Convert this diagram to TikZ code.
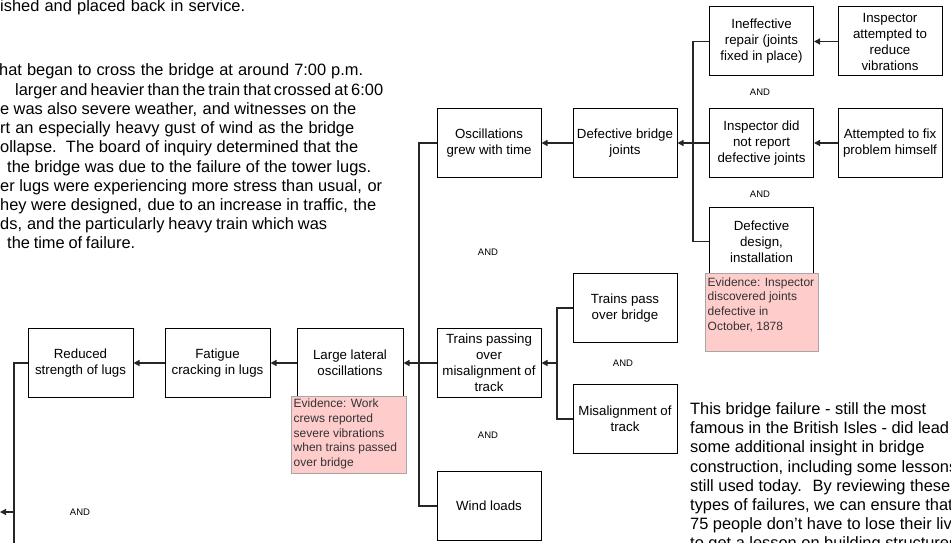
\documentclass[tikz,border=0pt]{standalone}
\usepackage{fontspec}
\setmainfont{Liberation Sans}
\usetikzlibrary{arrows.meta}
\newcommand{\fitline}[2]{\hbox to #1{\spaceskip=0pt plus 1fil minus 1fil\xspaceskip=\spaceskip #2}}
\begin{document}
\begin{tikzpicture}[x=1pt,y=-1pt,
  box/.style={draw=black, line width=1pt, fill=white, minimum width=104pt, minimum height=69pt, inner sep=0pt, align=center, font=\fontsize{13.3}{16}\selectfont},
  wbox/.style={box, minimum width=105pt},
  evbox/.style={draw=black!35, line width=1pt, fill=red!20},
  evtext/.style={anchor=north west, align=left, inner sep=0pt, text=black!80, font=\fontsize{12}{14.6}\selectfont},
  andlbl/.style={font=\fontsize{9.5}{11}\selectfont, inner sep=0pt},
  para/.style={anchor=base west, inner sep=0pt, font=\fontsize{16.4}{19.2}\selectfont},
  conn/.style={line width=1.2pt, draw=black!85},
  arr/.style={conn, -{Triangle[length=6pt,width=6pt]}}
]
\useasboundingbox (0,0) rectangle (951,543);
\clip (0,0) rectangle (951,543);
\fill[white] (0,0) rectangle (951,543);

% top-left paragraph (cut at the left edge)
\node[para] (p1) at (0,11.5) {\fitline{245pt}{ished and placed back in service.}};
\node[para] (p2) at (-1,76) {\fitline{364pt}{hat began to cross the bridge at around 7:00 p.m.}};
\node[para] (p3) at (15,95.2) {\fitline{368pt}{larger and heavier than the train that crossed at 6:00}};
\node[para] (p4) at (0,114.4) {\fitline{356pt}{e was also severe weather, and witnesses on the}};
\node[para] (p5) at (0,133.6) {\fitline{354pt}{rt an especially heavy gust of wind as the bridge}};
\node[para] (p6) at (0,152.8) {\fitline{358pt}{ollapse.~ The board of inquiry determined that the}};
\node[para] (p7) at (7,172) {\fitline{364pt}{the bridge was due to the failure of the tower lugs.}};
\node[para] (p8) at (0,191.2) {\fitline{382pt}{er lugs were experiencing more stress than usual, or}};
\node[para] (p9) at (0,210.4) {\fitline{376pt}{hey were designed, due to an increase in traffic, the}};
\node[para] (p10) at (0,229.6) {\fitline{327pt}{ds, and the particularly heavy train which was}};
\node[para] (p11) at (7,248.8) {\fitline{128pt}{the time of failure.}};

% boxes
\node[box] (osc) at (489,143) {Oscillations\\grew with time};
\node[box] (dbj) at (625,143) {Defective bridge\\joints};
\node[box] (ineff) at (761.5,41.5) {Ineffective\\repair (joints\\fixed in place)};
\node[box] (insatt) at (890,41.5) {Inspector\\attempted to\\reduce\\vibrations};
\node[box] (notrep) at (761.5,143) {Inspector did\\not report\\defective joints};
\node[box] (fix) at (890,143) {Attempted to fix\\problem himself};
\node[box] (design) at (761.5,241.5) {Defective\\design,\\installation};
\node[box] (trains) at (489,363) {Trains passing\\over\\misalignment of\\track};
\node[box] (pass) at (625,308) {Trains pass\\over bridge};
\node[box] (misal) at (625,419) {Misalignment of\\track};
\node[box] (wind) at (489,506) {Wind loads};
\node[wbox, minimum width=106pt] (large) at (350,363) {Large lateral\\oscillations};
\node[wbox] (fatigue) at (217.5,363) {Fatigue\\cracking in lugs};
\node[wbox] (reduced) at (80.5,363) {Reduced\\strength of lugs};

% AND labels
\node[andlbl] (and1) at (760,92) {AND};
\node[andlbl] (and2) at (760,194) {AND};
\node[andlbl] (and3) at (488,252) {AND};
\node[andlbl] (and4) at (623,363) {AND};
\node[andlbl] (and5) at (488,435) {AND};
\node[andlbl] (and6) at (80,512) {AND};

% connectors: defective joints tree
\coordinate (b1) at (693,41.5);
\coordinate (b2) at (693,143);
\coordinate (b3) at (693,241.5);
\draw[conn] (ineff.west) -- (b1) -- (b3) -- (design.west);
\draw[conn] (notrep.west) -- (b2);
\draw[arr] (b2) -- (dbj.east);
\draw[arr] (insatt.west) -- (ineff.east);
\draw[arr] (fix.west) -- (notrep.east);
\draw[arr] (dbj.west) -- (osc.east);

% left bus
\coordinate (l1) at (419,143);
\coordinate (l2) at (419,363);
\coordinate (l3) at (419,506);
\draw[conn] (osc.west) -- (l1) -- (l3) -- (wind.west);
\draw[conn] (trains.west) -- (l2);
\draw[arr] (l2) -- (large.east);

% trains bus
\coordinate (m1) at (557,308);
\coordinate (m2) at (557,363);
\coordinate (m3) at (557,419);
\draw[conn] (pass.west) -- (m1) -- (m3) -- (misal.west);
\draw[arr] (m2) -- (trains.east);

\draw[arr] (large.west) -- (fatigue.east);
\draw[arr] (fatigue.west) -- (reduced.east);

\coordinate (r1) at (14,363);
\coordinate (r2) at (14,512);
\coordinate (r3) at (14,550);
\coordinate (r4) at (0,512);
\draw[conn] (reduced.west) -- (r1) -- (r3);
\draw[arr] (r2) -- (r4);

% evidence boxes
\node[evbox, minimum width=115pt, minimum height=77pt, inner sep=0pt, anchor=north west] (ev1) at (291,396) {};
\node[evtext] (ev1t) at (293.5,399) {Evidence: Work\\crews reported\\severe vibrations\\when trains passed\\over bridge};
\node[evbox, minimum width=113pt, minimum height=78pt, inner sep=0pt, anchor=north west] (ev2) at (705,273) {};
\node[evtext] (ev2t) at (707.5,277.4) {Evidence: Inspector\\discovered joints\\defective in\\October, 1878};

% bottom-right paragraph
\node[anchor=north west, align=left, inner sep=0pt, font=\fontsize{16.4}{19.2}\selectfont] (p12) at (690,402.5) {This bridge failure - still the most\\famous in the British Isles - did lead to\\some additional insight in bridge\\construction, including some lessons\\still used today.~ By reviewing these\\types of failures, we can ensure that\\75 people don't have to lose their lives\\to get a lesson on building structures};
\end{tikzpicture}
\end{document}
